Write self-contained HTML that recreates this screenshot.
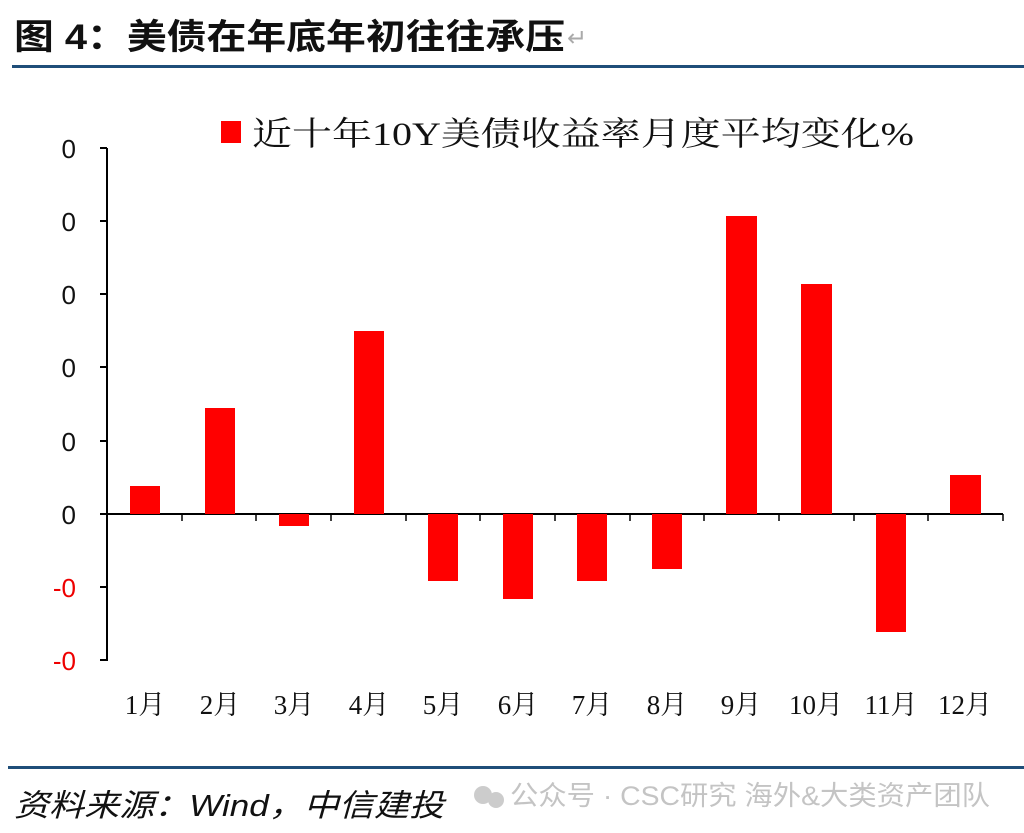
<!DOCTYPE html><html><head><meta charset="utf-8"><style>
body{margin:0;background:#fff;width:1024px;height:833px;overflow:hidden}
svg{display:block}
</style></head><body>
<svg width="1024" height="833" xmlns="http://www.w3.org/2000/svg" font-family="'Liberation Sans','Noto Sans CJK SC',sans-serif">
<text x="14" y="49" font-size="35" font-weight="bold" fill="#111" textLength="551" lengthAdjust="spacingAndGlyphs">图 4：美债在年底年初往往承压</text>
<text x="567" y="46" font-size="24" fill="#aaa">↵</text>
<rect x="12" y="65" width="1012" height="3" fill="#1f4e79"/>
<rect x="221" y="121" width="20" height="22" fill="#f00"/>
<text x="252" y="145" font-size="33" font-family="'Liberation Serif','Noto Serif CJK SC',serif" fill="#111" textLength="662" lengthAdjust="spacingAndGlyphs">近十年10Y美债收益率月度平均变化%</text>
<g stroke="#000" stroke-width="2">
<line x1="107" y1="148" x2="107" y2="661"/>
<line x1="100" y1="148" x2="107" y2="148"/><line x1="100" y1="221" x2="107" y2="221"/><line x1="100" y1="294" x2="107" y2="294"/><line x1="100" y1="367" x2="107" y2="367"/><line x1="100" y1="441" x2="107" y2="441"/><line x1="100" y1="514" x2="107" y2="514"/><line x1="100" y1="587" x2="107" y2="587"/><line x1="100" y1="660" x2="107" y2="660"/>
<line x1="107" y1="514" x2="1003" y2="514"/>
</g>
<g stroke="#000" stroke-width="1.5">
<line x1="182" y1="514" x2="182" y2="521"/><line x1="256" y1="514" x2="256" y2="521"/><line x1="331" y1="514" x2="331" y2="521"/><line x1="406" y1="514" x2="406" y2="521"/><line x1="480" y1="514" x2="480" y2="521"/><line x1="555" y1="514" x2="555" y2="521"/><line x1="630" y1="514" x2="630" y2="521"/><line x1="704" y1="514" x2="704" y2="521"/><line x1="779" y1="514" x2="779" y2="521"/><line x1="854" y1="514" x2="854" y2="521"/><line x1="928" y1="514" x2="928" y2="521"/><line x1="1003" y1="514" x2="1003" y2="521"/>
</g>
<g font-size="26" text-anchor="end">
<text x="76" y="158" fill="#111">0</text><text x="76" y="231" fill="#111">0</text><text x="76" y="304" fill="#111">0</text><text x="76" y="377" fill="#111">0</text><text x="76" y="451" fill="#111">0</text><text x="76" y="524" fill="#111">0</text><text x="76" y="597" fill="#e00">-0</text><text x="76" y="670" fill="#e00">-0</text>
</g>
<g fill="#f00">
<rect x="130" y="486" width="30" height="28"/>
<rect x="205" y="408" width="30" height="106"/>
<rect x="279" y="514" width="30" height="12"/>
<rect x="354" y="331" width="30" height="183"/>
<rect x="428" y="514" width="30" height="67"/>
<rect x="503" y="514" width="30" height="85"/>
<rect x="577" y="514" width="30" height="67"/>
<rect x="652" y="514" width="30" height="55"/>
<rect x="726" y="216" width="31" height="298"/>
<rect x="801" y="284" width="31" height="230"/>
<rect x="876" y="514" width="30" height="118"/>
<rect x="950" y="475" width="31" height="39"/>
</g>
<g font-size="27" text-anchor="middle" font-family="'Liberation Serif','Noto Serif CJK SC',serif" fill="#111">
<text x="145" y="714">1月</text><text x="220" y="714">2月</text><text x="294" y="714">3月</text><text x="369" y="714">4月</text><text x="443" y="714">5月</text><text x="518" y="714">6月</text><text x="592" y="714">7月</text><text x="667" y="714">8月</text><text x="741" y="714">9月</text><text x="816" y="714">10月</text><text x="891" y="714">11月</text><text x="965" y="714">12月</text>
</g>
<rect x="8" y="766" width="1016" height="3" fill="#1f4e79"/>
<text x="14" y="816" font-size="31" font-style="italic" fill="#111" textLength="430" lengthAdjust="spacingAndGlyphs">资料来源：Wind，中信建投</text>
<circle cx="483" cy="795" r="9" fill="#ccc"/><circle cx="496" cy="800" r="8" fill="#ccc"/>
<text x="510" y="805" font-size="27" fill="#c4c4c4" textLength="480" lengthAdjust="spacingAndGlyphs">公众号 · CSC研究 海外&amp;大类资产团队</text>
</svg>
</body></html>
